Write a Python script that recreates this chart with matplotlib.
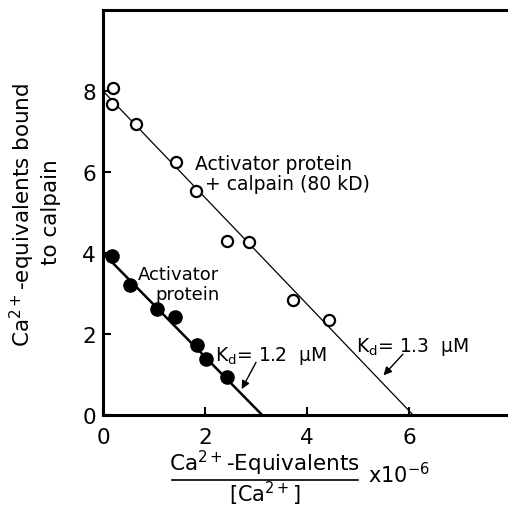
import matplotlib
matplotlib.use("Agg")
import matplotlib.pyplot as plt
from matplotlib.lines import Line2D

plt.rcParams['font.family'] = ['DejaVu Sans']
plt.rcParams['mathtext.default'] = 'regular'

# activator protein + calpain (80 kD), open circles
open_x = [0.20, 0.17, 0.64, 1.43, 1.83, 2.44, 2.87, 3.73, 4.43]
open_y = [8.07, 7.68, 7.18, 6.24, 5.54, 4.30, 4.27, 2.84, 2.35]
open_fit_x = [0.0, 6.08]
open_fit_y = [8.0, 0.0]

# activator protein alone, filled circles
fill_x = [0.17, 0.53, 1.05, 1.42, 1.84, 2.02, 2.43]
fill_y = [3.93, 3.21, 2.62, 2.42, 1.73, 1.38, 0.94]
fill_fit_x = [0.0, 3.12]
fill_fit_y = [4.0, 0.0]

xticks = [0, 2, 4, 6]
yticks = [0, 2, 4, 6, 8]

W, H = 508, 510
fig = plt.figure(figsize=(W / 100, H / 100), dpi=100)
ax = fig.add_axes([103 / W, 1 - 416 / H, 408 / W, 405 / H])

ax.plot(open_fit_x, open_fit_y, color='black', lw=0.9)
ax.plot(fill_fit_x, fill_fit_y, color='black', lw=1.8)
ax.plot(open_x, open_y, 'o', mfc='white', mec='black', mew=1.6, ms=8)
ax.plot(fill_x, fill_y, 'o', color='black', ms=9.5)

ax.set_xlim(0, 8)
ax.set_ylim(0, 10)
ax.set_xticks(xticks)
ax.set_yticks(yticks)
ax.tick_params(direction='in', length=6, width=1.5, labelsize=15.5)
ax.tick_params(axis='x', pad=9)
ax.tick_params(axis='y', pad=5)
for s in ['left', 'bottom', 'top']:
    ax.spines[s].set_linewidth(2.2)
ax.spines['right'].set_visible(False)

fs = 13.5
ax.text(1.8, 6.22, 'Activator protein', fontsize=fs, va='center', ha='left')
ax.text(2.0, 5.72, '+ calpain (80 kD)', fontsize=fs, va='center', ha='left')
ax.text(0.68, 3.47, 'Activator', fontsize=13, va='center', ha='left')
ax.text(1.02, 2.99, 'protein', fontsize=13, va='center', ha='left')

ax.text(2.2, 1.48, 'K$_d$= 1.2  \u03bcM', fontsize=fs, va='center', ha='left')
ax.annotate('', xy=(2.72, 0.64), xytext=(3.0, 1.3),
            arrowprops=dict(arrowstyle='-|>', color='black', lw=1.0,
                            mutation_scale=12, shrinkA=0, shrinkB=0))
ax.text(4.96, 1.7, 'K$_d$= 1.3  \u03bcM', fontsize=fs, va='center', ha='left')
ax.annotate('', xy=(5.5, 0.98), xytext=(5.88, 1.5),
            arrowprops=dict(arrowstyle='-|>', color='black', lw=1.0,
                            mutation_scale=12, shrinkA=0, shrinkB=0))

# y label, two lines
fig.text(22 / W, 1 - 215 / H, 'Ca$^{2+}$-equivalents bound', rotation=90,
         fontsize=15.5, ha='center', va='center')
fig.text(51 / W, 1 - 212 / H, 'to calpain', rotation=90,
         fontsize=15.5, ha='center', va='center')

# x label as a fraction
fig.text(264 / W, 1 - 463 / H, 'Ca$^{2+}$-Equivalents', fontsize=15.5,
         ha='center', va='center')
fig.add_artist(Line2D([172 / W, 358 / W], [1 - 481 / H, 1 - 481 / H],
                      color='black', lw=1.2))
fig.text(265 / W, 1 - 494 / H, '[Ca$^{2+}$]', fontsize=15,
         ha='center', va='center')
fig.text(368 / W, 1 - 475 / H, 'x10$^{-6}$', fontsize=15,
         ha='left', va='center')

fig.savefig('out.png', dpi=100)
